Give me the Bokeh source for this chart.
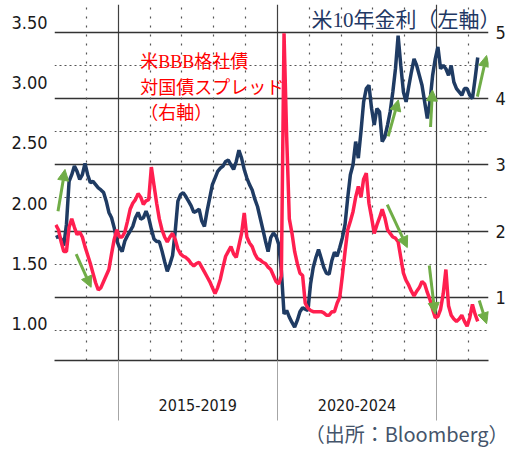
import numpy as np
from bokeh.plotting import figure
from bokeh.models import (Range1d, LinearAxis, FixedTicker, Grid, Arrow, NormalHead,
                          Label, Title, NumeralTickFormatter, ColumnDataSource)
from bokeh.embed import file_html
from bokeh.resources import INLINE

# ---------------- data (monthly, Jan 2013 - Apr 2026) ----------------
start_year = 2013
us10y = [  # US 10y yield (%), drawn against the right-hand scale
    1.90, 1.92, 1.88, 1.78, 2.10, 2.75, 2.85, 2.98, 2.90, 2.78, 2.85, 3.02,
    2.85, 2.73, 2.75, 2.70, 2.65, 2.62, 2.58, 2.45, 2.28, 2.20, 2.05, 1.85,
    1.75, 1.69, 1.85, 1.93, 2.00, 2.07, 2.20, 2.28, 2.18, 2.20, 2.30, 2.20,
    2.03, 1.88, 1.84, 1.84, 1.70, 1.54, 1.39, 1.50, 1.63, 2.00, 2.45, 2.55,
    2.58, 2.52, 2.45, 2.38, 2.28, 2.30, 2.33, 2.15, 2.07, 2.30, 2.50, 2.70,
    2.80, 2.90, 2.95, 2.98, 3.05, 3.07, 3.00, 2.93, 3.05, 3.22, 3.10, 2.93,
    2.80, 2.70, 2.62, 2.48, 2.37, 2.20, 2.03, 1.85, 1.69, 1.90, 1.97, 1.92,
    1.80, 1.40, 0.75, 0.80, 0.70, 0.62, 0.55, 0.65, 0.78, 0.84, 0.82, 0.80,
    1.20, 1.45, 1.60, 1.72, 1.59, 1.45, 1.36, 1.35, 1.55, 1.68, 1.62, 1.75,
    1.90, 2.10, 2.50, 2.85, 3.00, 3.35, 3.10, 3.50, 3.95, 4.15, 4.20, 3.85,
    3.60, 3.85, 3.80, 3.35, 3.42, 3.60, 3.80, 4.10, 4.45, 4.95, 4.50, 4.10,
    3.95, 4.18, 4.40, 4.60, 4.50, 4.35, 4.20, 3.95, 3.70, 3.95, 4.35, 4.60,
    4.78, 4.45, 4.50, 4.45, 4.35, 4.50, 4.25, 4.15, 4.10, 4.05, 4.15, 4.15,
    4.05, 4.00, 4.30, 4.62,
]
bbb_spread = [  # US BBB corporate spread over Treasuries (%), left-hand scale
    1.82, 1.78, 1.68, 1.60, 1.60, 1.80, 1.87, 1.80, 1.74, 1.76, 1.72, 1.64,
    1.57, 1.50, 1.42, 1.34, 1.28, 1.30, 1.35, 1.40, 1.45, 1.58, 1.70, 1.78,
    1.72, 1.72, 1.76, 1.85, 1.95, 2.00, 2.03, 2.08, 2.05, 1.99, 2.02, 2.03,
    2.30, 2.15, 2.00, 1.87, 1.78, 1.72, 1.68, 1.72, 1.75, 1.70, 1.62, 1.58,
    1.56, 1.55, 1.53, 1.50, 1.48, 1.50, 1.51, 1.47, 1.43, 1.39, 1.35, 1.30,
    1.25, 1.30, 1.37, 1.47, 1.56, 1.60, 1.64, 1.58, 1.55, 1.65, 1.75, 1.92,
    1.72, 1.67, 1.64, 1.58, 1.54, 1.53, 1.51, 1.50, 1.47, 1.45, 1.40, 1.35,
    1.33, 1.40, 3.41, 2.55, 1.87, 1.75, 1.60, 1.50, 1.42, 1.40, 1.17, 1.13,
    1.11, 1.10, 1.10, 1.10, 1.10, 1.09, 1.07, 1.07, 1.10, 1.10, 1.17, 1.22,
    1.40, 1.60, 1.78, 1.85, 1.93, 2.05, 2.14, 2.05, 2.20, 2.25, 2.00, 1.88,
    1.75, 1.82, 1.88, 1.95, 1.88, 1.78, 1.75, 1.72, 1.71, 1.68, 1.55, 1.42,
    1.36, 1.32, 1.27, 1.23, 1.27, 1.30, 1.35, 1.33, 1.26, 1.20, 1.12, 1.05,
    1.06, 1.12, 1.25, 1.45, 1.15, 1.07, 1.04, 1.02, 1.04, 1.07, 1.02, 0.98,
    1.05, 1.16, 1.08, 1.02,
]
t = [start_year + (i + 0.5) / 12 for i in range(len(us10y))]

group_labels = {2017.5: "2015-2019", 2022.5: "2020-2024"}
group_edges = [2015, 2020, 2025]
year_lines = [2014, 2016, 2017, 2018, 2019, 2021, 2022, 2023, 2024, 2026]
right_ticks = [1, 2, 3, 4, 5]
right_half_ticks = [0.5, 1.5, 2.5, 3.5, 4.5]
left_ticks = [1.0, 1.5, 2.0, 2.5, 3.0, 3.5]

# green trend arrows (year, right-scale value)
arrow_x0 = [2013.11, 2013.68, 2023.48, 2024.81, 2026.28, 2023.45, 2024.77, 2026.34]
arrow_y0 = [2.30, 1.65, 3.43, 3.57, 4.03, 2.40, 1.48, 0.95]
arrow_x1 = [2013.33, 2014.15, 2023.80, 2024.87, 2026.57, 2024.08, 2024.95, 2026.57]
arrow_y1 = [2.93, 1.15, 3.98, 4.13, 4.65, 1.75, 0.75, 0.60]

NARROW = "'DejaVu Sans Condensed', 'Liberation Sans Narrow', sans-serif"
SERIF_JP = "'Liberation Serif', 'Noto Sans CJK JP', serif"

p = figure(width=510, height=450, output_backend="svg", toolbar_location=None,
           x_range=Range1d(2013.0, 2026.63), y_range=Range1d(0.045, 5.42),
           y_axis_location="right",
           min_border_left=54, min_border_right=22, min_border_top=4, min_border_bottom=88,
           background_fill_color="white", border_fill_color="white",
           outline_line_color=None)
p.extra_y_ranges = {"left": Range1d(0.695, 3.649)}

def style_y(ax):
    ax.axis_line_color = None
    ax.major_tick_line_color = None
    ax.minor_tick_line_color = None
    ax.major_tick_out = 0
    ax.major_tick_in = 0
    ax.minor_tick_out = 0
    ax.minor_tick_in = 0
    ax.major_label_standoff = 7
    ax.major_label_text_font = NARROW
    ax.major_label_text_font_size = "18px"
    ax.major_label_text_color = "#1a1a1a"

# right axis
ra = p.yaxis[0]
ra.ticker = FixedTicker(ticks=right_ticks)
style_y(ra)

# left axis
la = LinearAxis(y_range_name="left", ticker=FixedTicker(ticks=left_ticks),
                formatter=NumeralTickFormatter(format="0.00"))
style_y(la)
p.add_layout(la, "left")

# bottom axis (group labels + separators)
xa = p.xaxis[0]
xa.ticker = FixedTicker(ticks=list(group_labels.keys()), minor_ticks=group_edges)
xa.major_label_overrides = group_labels
xa.major_tick_out = 0
xa.major_tick_in = 0
xa.minor_tick_in = 0
xa.minor_tick_out = 60
xa.minor_tick_line_color = "#a6a6a6"
xa.minor_tick_line_width = 1
xa.axis_line_color = "#333333"
xa.axis_line_width = 1.5
xa.major_label_standoff = -22
xa.major_label_text_font = NARROW
xa.major_label_text_font_size = "16px"
xa.major_label_text_color = "#1a1a1a"

# grids
p.xgrid.ticker = FixedTicker(ticks=group_edges)
p.xgrid.grid_line_color = "#404040"
p.xgrid.grid_line_width = 1.2
p.ygrid.ticker = FixedTicker(ticks=right_ticks)
p.ygrid.grid_line_color = "#333333"
p.ygrid.grid_line_width = 1.5
p.add_layout(Grid(dimension=0, ticker=FixedTicker(ticks=year_lines),
                  grid_line_color="#555555", grid_line_width=1.2, grid_line_dash="2 7"))
p.add_layout(Grid(dimension=1, ticker=FixedTicker(ticks=right_half_ticks),
                  grid_line_color="#555555", grid_line_width=1.2, grid_line_dash="2 3"))

src = ColumnDataSource(dict(t=t, us10y=us10y, bbb=bbb_spread))
p.line("t", "us10y", source=src, line_color="#1f3b63", line_width=3.5)
p.line("t", "bbb", source=src, line_color="#ff1f4f", line_width=3.5, y_range_name="left")

for x0, y0, x1, y1 in zip(arrow_x0, arrow_y0, arrow_x1, arrow_y1):
    p.add_layout(Arrow(x_start=x0, y_start=y0, x_end=x1, y_end=y1,
                       line_color="#70ad47", line_width=3,
                       end=NormalHead(size=11, fill_color="#70ad47", line_color="#70ad47")))

# texts
for i, s in enumerate(["米BBB格社債", "対国債スプレッド", "（右軸）"]):
    p.add_layout(Label(x=2015.69, y=4.55 - i * 0.385, text=s, text_color="#ff0000",
                       text_font=SERIF_JP, text_font_size="18px",
                       text_baseline="middle", text_align="left"))
p.add_layout(Label(x=2021.07, y=5.18, text="米10年金利（左軸）", text_color="#1f3864",
                   text_font=SERIF_JP, text_font_size="21px",
                   text_baseline="middle", text_align="left"))
p.add_layout(Title(text="（出所：Bloomberg）", align="right", offset=-20, standoff=6,
                   text_color="#44546a", text_font="'Noto Sans CJK JP', sans-serif",
                   text_font_size="20px", text_font_style="normal"), "below")

open("out.html", "w").write(file_html(p, INLINE))
